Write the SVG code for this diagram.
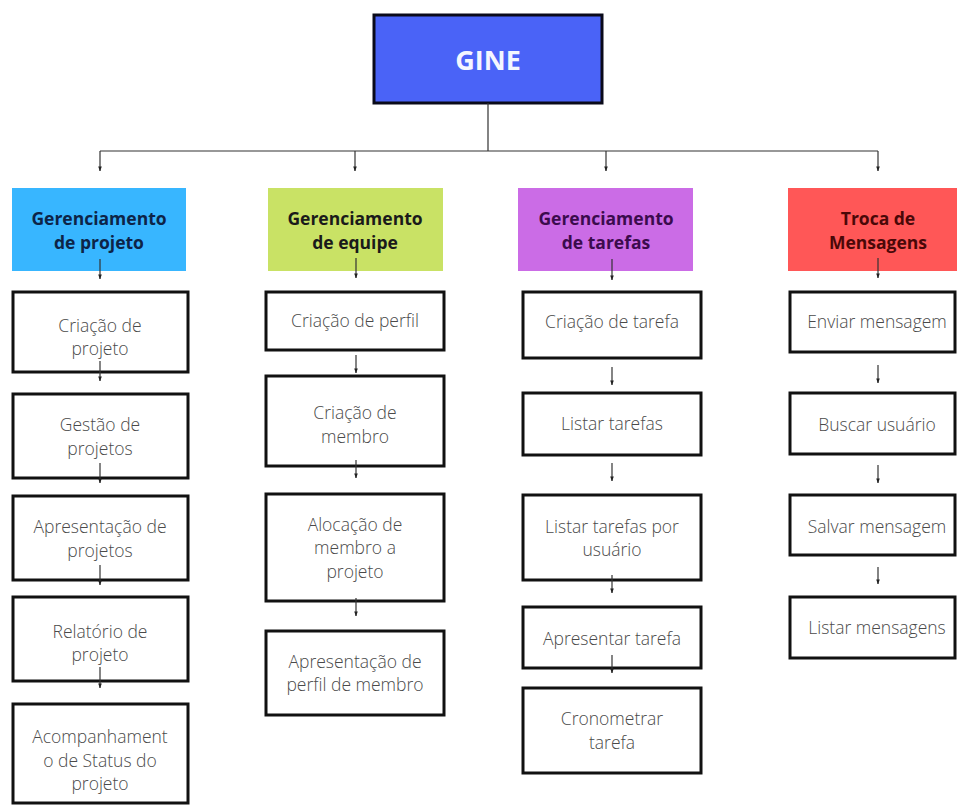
<svg xmlns="http://www.w3.org/2000/svg" width="957" height="807" viewBox="0 0 957 807">
  <defs>
    <marker id="tip" viewBox="0 0 6 6" refX="5.5" refY="3" markerWidth="5" markerHeight="5" orient="auto" markerUnits="userSpaceOnUse">
      <path d="M0,0.8 L6,3 L0,5.2 Z" fill="#222"/>
    </marker>
    <style>
      .box { fill: #ffffff; stroke: #111111; stroke-width: 3; }
      .item { font-family: "Open Sans", "Liberation Sans", sans-serif; font-weight: 300; font-size: 17.5px; fill: #4a4a4a; text-anchor: middle; }
      .head { font-family: "Open Sans", "Liberation Sans", sans-serif; font-weight: 700; font-size: 17.5px; text-anchor: middle; }
      .wire { fill: none; stroke: #333333; stroke-width: 1.2; }
      .arr { fill: none; stroke: #333333; stroke-width: 1.2; marker-end: url(#tip); }
    </style>
  </defs>
  <rect width="957" height="807" fill="#ffffff"/>

  <!-- root -->
  <g id="gine">
    <rect x="374" y="15" width="228" height="88" fill="#4a63f7" stroke="#0a0a1a" stroke-width="3"/>
    <text x="488" y="70" font-family="'Open Sans', 'Liberation Sans', sans-serif" font-weight="700" font-size="27" fill="#f4f6ff" text-anchor="middle">GINE</text>
  </g>

  <!-- column 1: projects -->
  <g id="h-projeto">
    <rect x="12" y="188" width="174" height="83" fill="#38b6ff"/>
    <text class="head" fill="#0d2447" x="99" y="225">Gerenciamento</text>
    <text class="head" fill="#0d2447" x="99" y="249">de projeto</text>
  </g>
  <g id="p1">
    <rect class="box" x="13" y="292" width="175" height="80"/>
    <text class="item" x="100" y="332">Criação de</text>
    <text class="item" x="100" y="355">projeto</text>
  </g>
  <g id="p2">
    <rect class="box" x="13" y="394" width="175" height="84"/>
    <text class="item" x="100" y="431">Gestão de</text>
    <text class="item" x="100" y="455">projetos</text>
  </g>
  <g id="p3">
    <rect class="box" x="13" y="496" width="175" height="84"/>
    <text class="item" x="100" y="533">Apresentação de</text>
    <text class="item" x="100" y="557">projetos</text>
  </g>
  <g id="p4">
    <rect class="box" x="13" y="597" width="175" height="84"/>
    <text class="item" x="100" y="638">Relatório de</text>
    <text class="item" x="100" y="661">projeto</text>
  </g>
  <g id="p5">
    <rect class="box" x="13" y="704" width="175" height="99"/>
    <text class="item" x="100" y="743">Acompanhament</text>
    <text class="item" x="100" y="767">o de Status do</text>
    <text class="item" x="100" y="790">projeto</text>
  </g>

  <!-- column 2: team -->
  <g id="h-equipe">
    <rect x="268" y="188" width="175" height="83" fill="#c9e265"/>
    <text class="head" fill="#1a1a1a" x="355" y="225">Gerenciamento</text>
    <text class="head" fill="#1a1a1a" x="355" y="249">de equipe</text>
  </g>
  <g id="e1">
    <rect class="box" x="266" y="292" width="178" height="58"/>
    <text class="item" x="355" y="327">Criação de perfil</text>
  </g>
  <g id="e2">
    <rect class="box" x="266" y="376" width="178" height="90"/>
    <text class="item" x="355" y="419">Criação de</text>
    <text class="item" x="355" y="443">membro</text>
  </g>
  <g id="e3">
    <rect class="box" x="266" y="494" width="178" height="107"/>
    <text class="item" x="355" y="531">Alocação de</text>
    <text class="item" x="355" y="554">membro a</text>
    <text class="item" x="355" y="578">projeto</text>
  </g>
  <g id="e4">
    <rect class="box" x="266" y="631" width="178" height="84"/>
    <text class="item" x="355" y="668">Apresentação de</text>
    <text class="item" x="355" y="691">perfil de membro</text>
  </g>

  <!-- column 3: tasks -->
  <g id="h-tarefas">
    <rect x="518" y="188" width="175" height="83" fill="#cb6ce6"/>
    <text class="head" fill="#3b0b4d" x="606" y="225">Gerenciamento</text>
    <text class="head" fill="#3b0b4d" x="606" y="249">de tarefas</text>
  </g>
  <g id="t1">
    <rect class="box" x="523" y="292" width="178" height="66"/>
    <text class="item" x="612" y="328">Criação de tarefa</text>
  </g>
  <g id="t2">
    <rect class="box" x="523" y="393" width="178" height="62"/>
    <text class="item" x="612" y="430">Listar tarefas</text>
  </g>
  <g id="t3">
    <rect class="box" x="523" y="495" width="178" height="85"/>
    <text class="item" x="612" y="533">Listar tarefas por</text>
    <text class="item" x="612" y="556">usuário</text>
  </g>
  <g id="t4">
    <rect class="box" x="523" y="607" width="178" height="61"/>
    <text class="item" x="612" y="645">Apresentar tarefa</text>
  </g>
  <g id="t5">
    <rect class="box" x="523" y="688" width="178" height="85"/>
    <text class="item" x="612" y="725">Cronometrar</text>
    <text class="item" x="612" y="749">tarefa</text>
  </g>

  <!-- column 4: messages -->
  <g id="h-mensagens">
    <rect x="788" y="188" width="169" height="83" fill="#ff5757"/>
    <text class="head" fill="#4a0808" x="878" y="225">Troca de</text>
    <text class="head" fill="#4a0808" x="878" y="249">Mensagens</text>
  </g>
  <g id="m1">
    <rect class="box" x="790" y="292" width="165" height="60"/>
    <text class="item" x="877" y="328">Enviar mensagem</text>
  </g>
  <g id="m2">
    <rect class="box" x="790" y="393" width="165" height="61"/>
    <text class="item" x="877" y="431">Buscar usuário</text>
  </g>
  <g id="m3">
    <rect class="box" x="790" y="495" width="165" height="60"/>
    <text class="item" x="877" y="533">Salvar mensagem</text>
  </g>
  <g id="m4">
    <rect class="box" x="790" y="597" width="165" height="61"/>
    <text class="item" x="877" y="634">Listar mensagens</text>
  </g>

  <!-- connectors, drawn over the boxes so the short stubs cross the borders -->
  <g id="connectors">
    <path class="wire" d="M488,103 V151 M100,151 H878"/>
    <path class="arr" d="M100,151 V171"/>
    <path class="arr" d="M355,151 V171"/>
    <path class="arr" d="M606,151 V171"/>
    <path class="arr" d="M878,151 V171"/>

    <!-- column 1 -->
    <path class="arr" d="M100,259 V279"/>
    <path class="arr" d="M100,361 V381"/>
    <path class="arr" d="M100,463 V483"/>
    <path class="arr" d="M100,565 V585"/>
    <path class="arr" d="M100,667 V688"/>

    <!-- column 2 -->
    <path class="arr" d="M356,258 V278"/>
    <path class="arr" d="M356,355 V373"/>
    <path class="arr" d="M356,460 V478"/>
    <path class="arr" d="M356,598 V616"/>

    <!-- column 3 -->
    <path class="arr" d="M612,259 V280"/>
    <path class="arr" d="M612,367 V385"/>
    <path class="arr" d="M612,463 V481"/>
    <path class="arr" d="M612,575 V593"/>
    <path class="arr" d="M612,655 V673"/>

    <!-- column 4 -->
    <path class="arr" d="M878,258 V278"/>
    <path class="arr" d="M878,365 V383"/>
    <path class="arr" d="M878,465 V483"/>
    <path class="arr" d="M878,567 V584"/>
  </g>
</svg>
